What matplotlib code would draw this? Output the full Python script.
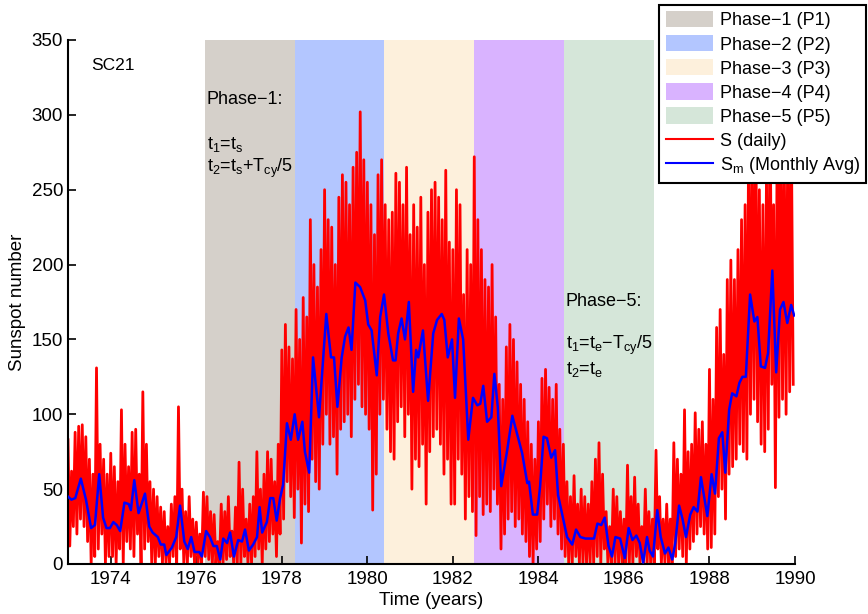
import numpy as np
import matplotlib.pyplot as plt
from matplotlib.patches import Patch
from matplotlib.lines import Line2D

plt.rcParams['font.family'] = ['Liberation Sans', 'DejaVu Sans']
plt.rcParams['font.size'] = 13
plt.rcParams['mathtext.fontset'] = 'custom'
plt.rcParams['mathtext.rm'] = 'Liberation Sans'

# phase boundaries for cycle 21 (years)
phase_edges = [1976.2, 1978.3, 1980.4, 1982.5, 1984.6, 1986.7]
phase_colors = ['#d5d0ca', '#b3c6ff', '#fdf0dc', '#d9b3ff', '#d5e6d9']
phase_labels = ['Phase\u22121 (P1)', 'Phase\u22122 (P2)', 'Phase\u22123 (P3)',
                'Phase\u22124 (P4)', 'Phase\u22125 (P5)']

daily_by_year = {
    1973: [83, 12, 62, 25, 88, 20, 92, 30, 93, 25, 85, 15, 70, 0, 60, 5, 131, 10, 80, 20, 70, 0, 60, 5],
    1974: [74, 5, 65, 0, 55, 10, 103, 0, 80, 15, 65, 10, 88, 5, 90, 20, 60, 0, 115, 10, 80, 15, 55, 0],
    1975: [50, 0, 45, 5, 38, 0, 35, 0, 25, 0, 40, 5, 45, 0, 105, 10, 50, 0, 35, 0, 45, 5, 30, 0],
    1976: [28, 0, 20, 0, 48, 5, 45, 3, 35, 0, 33, 0, 15, 0, 40, 0, 35, 3, 45, 5, 22, 0, 38, 0],
    1977: [68, 0, 50, 5, 30, 0, 40, 0, 45, 5, 75, 10, 50, 0, 60, 10, 75, 15, 70, 20, 55, 5, 80, 20],
    1978: [143, 30, 160, 55, 145, 45, 137, 31, 170, 50, 150, 14, 178, 40, 165, 35, 230, 70, 200, 55, 185, 50, 210, 80],
    1979: [250, 100, 230, 80, 225, 85, 200, 60, 245, 90, 260, 95, 255, 100, 240, 85, 265, 110, 275, 120, 302, 105, 270, 100],
    1980: [255, 90, 240, 36, 220, 60, 260, 100, 270, 110, 240, 90, 230, 75, 235, 70, 261, 95, 255, 105, 240, 85, 265, 100],
    1981: [220, 50, 240, 70, 225, 65, 245, 80, 200, 40, 235, 75, 250, 85, 255, 90, 245, 80, 230, 60, 263, 70, 215, 40],
    1982: [210, 40, 250, 70, 240, 60, 180, 30, 210, 45, 200, 35, 272, 19, 230, 45, 210, 33, 190, 40, 185, 35, 200, 50],
    1983: [165, 40, 120, 10, 110, 20, 145, 30, 160, 35, 150, 25, 135, 30, 120, 20, 110, 15, 95, 5, 80, 0, 70, 10],
    1984: [95, 15, 124, 30, 130, 40, 118, 25, 110, 30, 120, 20, 90, 10, 80, 5, 55, 0, 45, 0, 59, 5, 40, 0],
    1985: [50, 0, 45, 0, 40, 0, 55, 0, 70, 5, 81, 0, 60, 10, 35, 0, 25, 0, 50, 0, 45, 0, 35, 0],
    1986: [30, 0, 66, 0, 45, 0, 58, 5, 40, 0, 25, 0, 50, 0, 35, 0, 30, 0, 76, 10, 45, 0, 30, 0],
    1987: [40, 0, 30, 0, 81, 5, 70, 10, 60, 5, 103, 0, 75, 10, 80, 15, 101, 20, 90, 25, 95, 20, 80, 10],
    1988: [130, 11, 110, 20, 158, 45, 170, 50, 140, 30, 190, 60, 203, 65, 190, 70, 210, 80, 230, 75, 240, 70, 290, 100],
    1989: [280, 110, 300, 95, 250, 80, 240, 75, 260, 90, 320, 120, 240, 51, 290, 98, 310, 110, 270, 100, 300, 115, 280, 120],
}

# monthly average (time, value)
sm_time = [1973.00, 1973.08, 1973.17, 1973.30, 1973.42, 1973.54, 1973.63, 1973.73, 1973.82, 1973.90,
           1973.98, 1974.06, 1974.14, 1974.22, 1974.32, 1974.42, 1974.47, 1974.55, 1974.65, 1974.80,
           1974.90, 1974.98, 1975.10, 1975.17, 1975.25, 1975.30, 1975.43, 1975.53, 1975.62, 1975.72,
           1975.80, 1975.88, 1975.96, 1976.07, 1976.13, 1976.23, 1976.32, 1976.40, 1976.48, 1976.56,
           1976.63, 1976.72, 1976.79, 1976.88, 1976.98, 1977.07, 1977.14, 1977.23, 1977.33, 1977.42,
           1977.48, 1977.54, 1977.65, 1977.73, 1977.80, 1977.88, 1977.96, 1978.03, 1978.12, 1978.21,
           1978.30, 1978.38, 1978.48, 1978.54, 1978.64, 1978.73, 1978.80, 1978.87, 1979.04, 1979.15,
           1979.22, 1979.30, 1979.40, 1979.48, 1979.56, 1979.63, 1979.72, 1979.83, 1979.95, 1980.02,
           1980.10, 1980.22, 1980.30, 1980.39, 1980.49, 1980.60, 1980.66, 1980.72, 1980.80, 1980.88,
           1980.97, 1981.07, 1981.14, 1981.19, 1981.30, 1981.42, 1981.54, 1981.63, 1981.74, 1981.80,
           1981.88, 1981.98, 1982.05, 1982.14, 1982.24, 1982.36, 1982.47, 1982.57, 1982.64, 1982.71,
           1982.80, 1982.90, 1982.97, 1983.05, 1983.13, 1983.27, 1983.39, 1983.50, 1983.62, 1983.74,
           1983.78, 1983.87, 1983.97, 1984.04, 1984.12, 1984.20, 1984.30, 1984.39, 1984.46, 1984.55,
           1984.67, 1984.79, 1984.88, 1984.98, 1985.10, 1985.20, 1985.30, 1985.38, 1985.47, 1985.55,
           1985.64, 1985.72, 1985.80, 1985.91, 1986.02, 1986.11, 1986.20, 1986.29, 1986.37, 1986.45,
           1986.54, 1986.60, 1986.68, 1986.78, 1986.86, 1986.96, 1987.04, 1987.13, 1987.20, 1987.29,
           1987.37, 1987.45, 1987.55, 1987.63, 1987.72, 1987.80, 1987.88, 1987.95, 1988.05, 1988.13,
           1988.22, 1988.30, 1988.37, 1988.46, 1988.53, 1988.63, 1988.70, 1988.77, 1988.85, 1988.95,
           1989.05, 1989.12, 1989.20, 1989.30, 1989.37, 1989.47, 1989.56, 1989.65, 1989.73, 1989.82,
           1989.91, 1989.98]
sm_value = [45, 43, 44, 57, 43, 24, 26, 60, 31, 24,
            24, 28, 26, 22, 41, 40, 36, 56, 34, 47,
            25, 21, 18, 13, 13, 6, 11, 18, 39, 15,
            10, 18, 8, 8, 5, 22, 18, 12, 12, 3,
            17, 14, 21, 5, 16, 15, 23, 9, 13, 18,
            38, 21, 28, 44, 44, 29, 44, 53, 94, 83,
            100, 83, 95, 75, 61, 138, 118, 98, 167, 138,
            138, 105, 138, 152, 158, 143, 188, 185, 176, 160,
            156, 126, 165, 180, 154, 136, 136, 154, 164, 150,
            175, 115, 143, 138, 156, 109, 154, 163, 167, 163,
            138, 150, 111, 164, 150, 83, 111, 106, 107, 119,
            95, 98, 127, 105, 52, 76, 99, 87, 74, 54,
            55, 33, 33, 52, 85, 84, 71, 76, 46, 34,
            18, 13, 23, 18, 17, 17, 17, 27, 26, 31,
            12, 5, 18, 17, 4, 24, 16, 19, 14, 1,
            18, 9, 5, 36, 18, 7, 11, 3, 14, 39,
            30, 18, 33, 38, 35, 58, 44, 32, 60, 47,
            84, 88, 61, 103, 114, 112, 121, 125, 125, 180,
            162, 165, 132, 131, 141, 196, 128, 170, 175, 161,
            173, 166]

# flatten daily data: 24 samples per year
daily_t = []
daily_v = []
for yr, vals in daily_by_year.items():
    for k, v in enumerate(vals):
        daily_t.append(yr + k / len(vals))
        daily_v.append(v)

fig = plt.figure(figsize=(8.68, 6.14), dpi=100)
ax = fig.add_axes([68 / 868, 50 / 614, 727 / 868, 524 / 614])

for i in range(5):
    ax.axvspan(phase_edges[i], phase_edges[i + 1], color=phase_colors[i], lw=0, zorder=0)

ax.plot(daily_t, daily_v, color='red', lw=2.0, zorder=2)
ax.plot(sm_time, sm_value, color='blue', lw=1.8, zorder=3)

ax.set_xlim(1973, 1990)
ax.set_ylim(0, 350)
ax.set_xticks(range(1974, 1991, 2))
ax.set_yticks(range(0, 351, 50))
ax.tick_params(direction='in', length=6, width=1.2, labelsize=13.5)
ax.tick_params(axis='x', pad=5)
for s in ['top', 'right']:
    ax.spines[s].set_visible(False)
for s in ['left', 'bottom']:
    ax.spines[s].set_linewidth(1.5)
ax.set_xlabel('Time (years)', fontsize=13.5, labelpad=3)
ax.set_ylabel('Sunspot number', fontsize=13.5, labelpad=4)

ax.text(1973.55, 333, 'SC21', fontsize=12.5, va='center')
ax.text(1976.24, 310, 'Phase\u22121:', fontsize=13, va='center')
ax.text(1976.24, 280, r'$\mathregular{t_1}$=$\mathregular{t_s}$', fontsize=13, va='center')
ax.text(1976.24, 264, r'$\mathregular{t_2}$=$\mathregular{t_s}$+$\mathregular{T_{cy}}$/5',
        fontsize=13, va='center')
ax.text(1984.64, 175, 'Phase\u22125:', fontsize=13, va='center')
ax.text(1984.64, 146, r'$\mathregular{t_1}$=$\mathregular{t_e}$' + '\u2212' + r'$\mathregular{T_{cy}}$/5',
        fontsize=13, va='center')
ax.text(1984.64, 130, r'$\mathregular{t_2}$=$\mathregular{t_e}$', fontsize=13, va='center')

handles = [Patch(facecolor=c, edgecolor='none') for c in phase_colors]
handles += [Line2D([], [], color='red', lw=1.5), Line2D([], [], color='blue', lw=1.5)]
labels = phase_labels + ['S (daily)', r'$\mathregular{S_m}$ (Monthly Avg)']
leg = fig.legend(handles, labels, loc='upper right', bbox_to_anchor=(0.998, 0.992),
                 fontsize=13, frameon=True, fancybox=False, framealpha=1,
                 edgecolor='black', handlelength=2.6, handleheight=1.0,
                 labelspacing=0.32, borderpad=0.35, handletextpad=0.4, borderaxespad=0)
leg.get_frame().set_linewidth(1.5)

fig.savefig('out.png', dpi=100)
